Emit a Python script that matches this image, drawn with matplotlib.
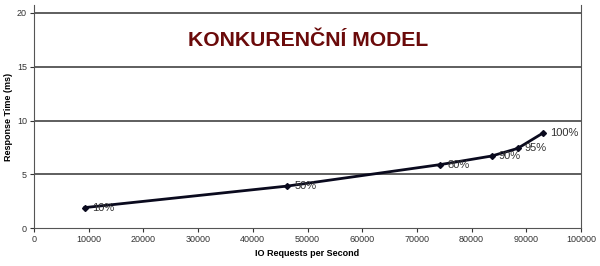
import matplotlib
matplotlib.use("Agg")
import matplotlib.pyplot as plt

io_rates = [9300, 46300, 74300, 83700, 88400, 93100]
resp_ms = [1.9, 3.9, 5.9, 6.7, 7.4, 8.85]
loads = ["10%", "50%", "80%", "90%", "95%", "100%"]
xticks = list(range(0, 100001, 10000))
yticks = [0, 5, 10, 15, 20]

plt.rcParams['font.family'] = ['Liberation Sans', 'DejaVu Sans']
fig = plt.figure(figsize=(6, 2.66), dpi=100)
ax = fig.add_axes([34/600, 1-228/266, (581-34)/600, (228-5)/266])
ax.set_xlim(0, 100000)
ax.set_ylim(0, 20*223/215)
for y in yticks[1:]:
    ax.axhline(y, color='#333333', lw=1.1, zorder=1)
ax.plot(io_rates, resp_ms, color='#0a0a1e', lw=2, marker='D', ms=3, zorder=3)
for x, y, t in zip(io_rates, resp_ms, loads):
    ax.annotate(t, (x, y), xytext=(5, 0), textcoords='offset points',
                fontsize=8, color='#333333', va='center')
ax.set_xticks(xticks)
ax.set_xticklabels([str(v) for v in xticks])
ax.set_yticks(yticks)
ax.tick_params(labelsize=6.5, colors='#333333', length=3, width=0.8, pad=2)
ax.spines['top'].set_visible(False)
for s in ['left', 'right', 'bottom']:
    ax.spines[s].set_color('#555555')
ax.set_xlabel('IO Requests per Second', fontsize=6.5, fontweight='bold', labelpad=4)
ax.set_ylabel('Response Time (ms)', fontsize=6.5, fontweight='bold', labelpad=3)
fig.text(0.514, 1-40/266, 'KONKURENČNÍ MODEL', color='#6b0a0a', fontsize=15.2,
         fontweight='bold', ha='center', va='center')
fig.savefig('out.png', dpi=100)
